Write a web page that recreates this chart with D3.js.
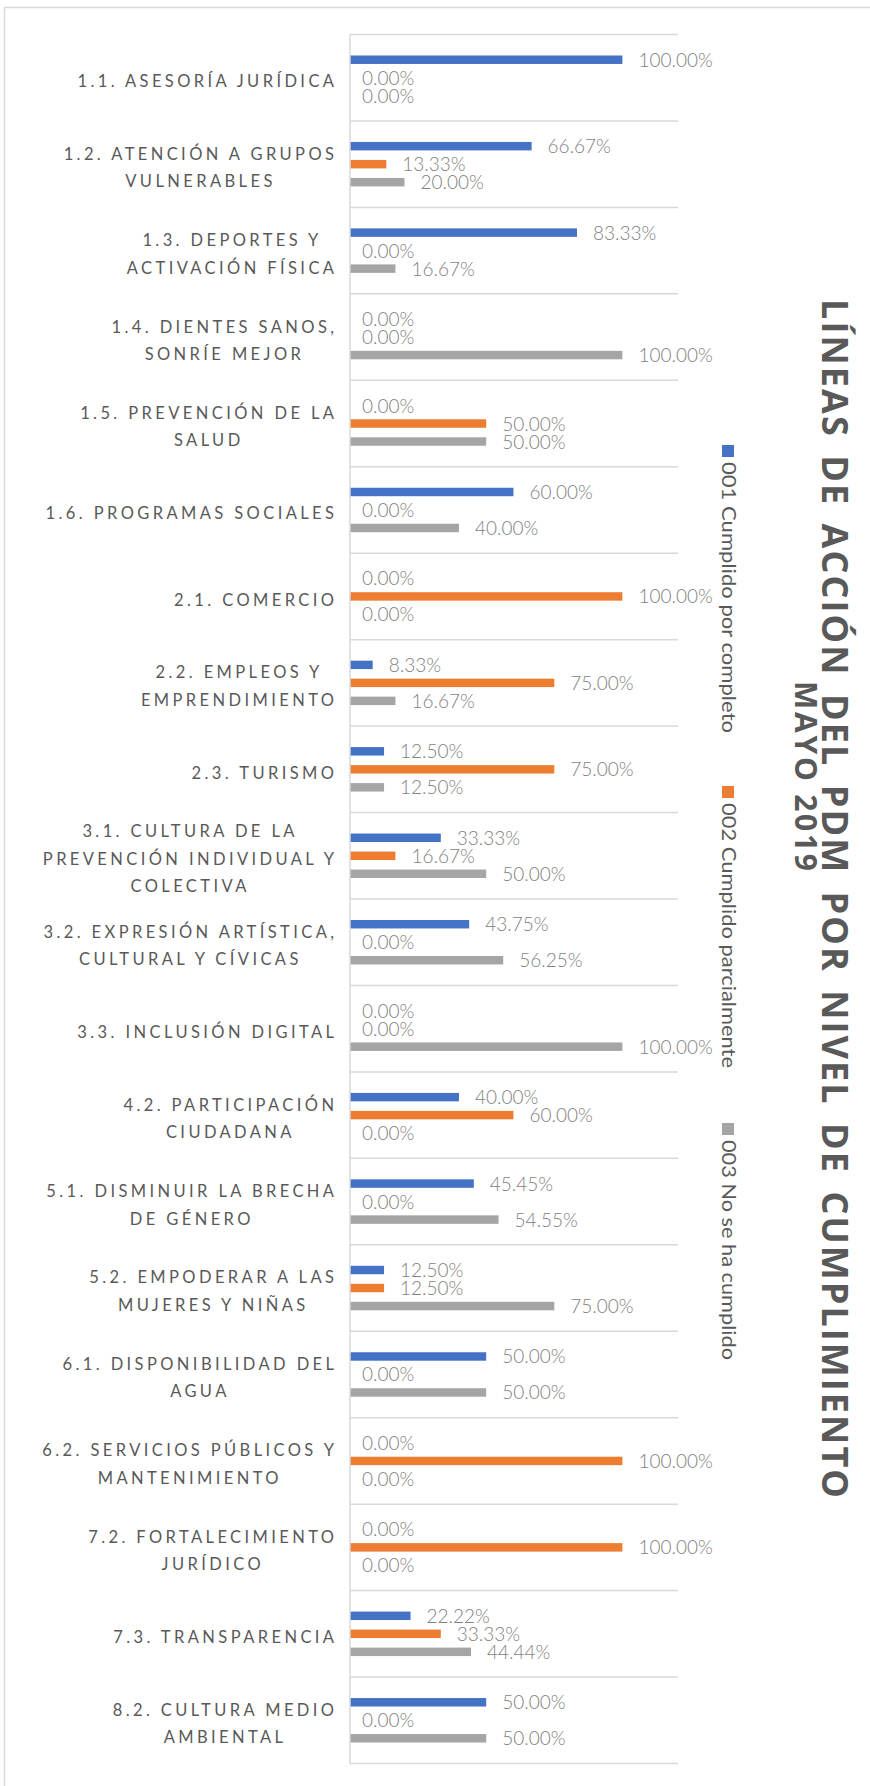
<!DOCTYPE html>
<meta charset="UTF-8">
<script src="https://d3js.org/d3.v7.min.js"></script>
<style>
  body { margin: 0; background: #fff; }
</style>
<div id="my_dataviz"></div>
<script>

  // Data
  const categories = [
    "1.1. ASESORÍA JURÍDICA",
    "1.2. ATENCIÓN A GRUPOS\nVULNERABLES",
    "1.3. DEPORTES Y\nACTIVACIÓN FÍSICA",
    "1.4. DIENTES SANOS,\nSONRÍE MEJOR",
    "1.5. PREVENCIÓN DE LA\nSALUD",
    "1.6. PROGRAMAS SOCIALES",
    "2.1. COMERCIO",
    "2.2. EMPLEOS Y\nEMPRENDIMIENTO",
    "2.3. TURISMO",
    "3.1. CULTURA DE LA\nPREVENCIÓN INDIVIDUAL Y\nCOLECTIVA",
    "3.2. EXPRESIÓN ARTÍSTICA,\nCULTURAL Y CÍVICAS",
    "3.3. INCLUSIÓN DIGITAL",
    "4.2. PARTICIPACIÓN\nCIUDADANA",
    "5.1. DISMINUIR LA BRECHA\nDE GÉNERO",
    "5.2. EMPODERAR A LAS\nMUJERES Y NIÑAS",
    "6.1. DISPONIBILIDAD DEL\nAGUA",
    "6.2. SERVICIOS PÚBLICOS Y\nMANTENIMIENTO",
    "7.2. FORTALECIMIENTO\nJURÍDICO",
    "7.3. TRANSPARENCIA",
    "8.2. CULTURA MEDIO\nAMBIENTAL"
  ];

  const series = ["001 Cumplido por completo", "002 Cumplido parcialmente", "003 No se ha cumplido"];

  const completo   = [100, 66.67, 83.33, 0, 0, 60, 0, 8.33, 12.5, 33.33, 43.75, 0, 40, 45.45, 12.5, 50, 0, 0, 22.22, 50];
  const parcial    = [0, 13.33, 0, 0, 50, 0, 100, 75, 75, 16.67, 0, 0, 60, 0, 12.5, 0, 100, 100, 33.33, 0];
  const noCumplido = [0, 20, 16.67, 100, 50, 40, 0, 16.67, 12.5, 50, 56.25, 100, 0, 54.55, 75, 50, 0, 0, 44.44, 50];

  const titleText = "LÍNEAS DE ACCIÓN DEL PDM POR NIVEL DE CUMPLIMIENTO";
  const subtitleText = "MAYO 2019";

  const colors = ["#4472C4", "#ED7D31", "#A5A5A5"];

  // Dimensions
  const width = 870, height = 1786;
  const plot = {left: 350, right: 622.4, top: 34.5, bottom: 1763.5, gridEnd: 678};

  const svg = d3.select("#my_dataviz")
    .append("svg")
    .attr("width", width)
    .attr("height", height);

  // Chart border
  svg.append("path")
    .attr("d", `M4.5,${height} V7.5 H${width}`)
    .attr("fill", "none")
    .attr("stroke", "#d9d9d9")
    .attr("stroke-width", 1.5);

  const x = d3.scaleLinear()
    .domain([0, 100])
    .range([plot.left, plot.right]);

  const y = d3.scaleBand()
    .domain(categories)
    .range([plot.top, plot.bottom]);

  const bw = y.bandwidth();
  const ySub = d3.scaleBand()
    .domain(series)
    .range([(bw - 54) / 2, (bw + 54) / 2])
    .paddingInner(0.53)
    .paddingOuter(0.265);

  // Gridlines
  const edges = categories.map(c => y(c)).concat([plot.bottom]);
  svg.append("g")
    .selectAll("line")
    .data(edges)
    .join("line")
    .attr("x1", plot.left)
    .attr("x2", plot.gridEnd)
    .attr("y1", d => d)
    .attr("y2", d => d)
    .attr("stroke", "#d9d9d9")
    .attr("stroke-width", 1.5);

  // Bars
  const rows = categories.map((c, i) => ({
    cat: c,
    vals: [completo[i], parcial[i], noCumplido[i]]
  }));

  const groups = svg.append("g")
    .selectAll("g")
    .data(rows)
    .join("g")
    .attr("transform", d => `translate(0, ${y(d.cat)})`);

  groups.selectAll("rect")
    .data(d => d.vals.map((v, k) => ({v, s: series[k], k})))
    .join("rect")
    .attr("x", x(0))
    .attr("y", d => ySub(d.s))
    .attr("width", d => x(d.v) - x(0))
    .attr("height", ySub.bandwidth())
    .attr("fill", d => colors[d.k]);

  groups.selectAll("text")
    .data(d => d.vals.map((v, k) => ({v, s: series[k], k})))
    .join("text")
    .attr("x", d => x(d.v) + (d.v > 0 ? 16 : 12))
    .attr("y", d => ySub(d.s) + ySub.bandwidth() / 2 + 7)
    .style("font-family", "Lato, sans-serif")
    .style("font-weight", "300")
    .style("font-size", "19px")
    .attr("fill", "#7f7f7f")
    .text(d => d.v.toFixed(2) + "%");

  // Y axis line
  svg.append("line")
    .attr("x1", plot.left)
    .attr("x2", plot.left)
    .attr("y1", plot.top)
    .attr("y2", plot.bottom)
    .attr("stroke", "#d9d9d9")
    .attr("stroke-width", 1.5);

  // Category labels
  const labelRight = 334, lineGap = 27.5, ls = 3.4;
  categories.forEach(c => {
    const lines = c.split("\n");
    const mid = y(c) + bw / 2;
    const t = svg.append("text")
      .attr("text-anchor", "middle")
      .style("font-family", "Lato, sans-serif")
      .style("font-size", "16.5px")
      .style("letter-spacing", ls + "px")
      .attr("fill", "#595959");
    const spans = lines.map((ln, j) => t.append("tspan")
      .attr("y", mid + 9.2 - (lines.length - 1) * lineGap / 2 + j * lineGap)
      .text(ln));
    const maxW = d3.max(spans, s => s.node().getComputedTextLength()) - ls;
    spans.forEach(s => s.attr("x", labelRight - maxW / 2 + ls / 2));
  });

  // Legend
  const legendY = [451, 792, 1129];
  const legendLen = [271, 265, 220];
  const legend = svg.append("g");
  legend.selectAll("rect")
    .data(series)
    .join("rect")
    .attr("x", 722)
    .attr("y", (d, i) => legendY[i] - 6)
    .attr("width", 12)
    .attr("height", 12)
    .attr("fill", (d, i) => colors[i]);

  legend.selectAll("text")
    .data(series)
    .join("text")
    .attr("transform", (d, i) => `translate(722, ${legendY[i] + 11}) rotate(90)`)
    .attr("textLength", (d, i) => legendLen[i])
    .attr("lengthAdjust", "spacingAndGlyphs")
    .style("font-family", "Lato, sans-serif")
    .style("font-size", "20px")
    .attr("fill", "#595959")
    .text(d => d);

  // Chart Title
  svg.append("text")
    .attr("transform", "translate(822, 898.5) rotate(90)")
    .attr("text-anchor", "middle")
    .attr("textLength", 1199)
    .attr("lengthAdjust", "spacing")
    .style("font-family", "'Open Sans', sans-serif")
    .style("font-weight", "bold")
    .style("font-size", "36px")
    .style("word-spacing", "6px")
    .attr("fill", "#595959")
    .text(titleText);

  svg.append("text")
    .attr("transform", "translate(795, 776) rotate(90)")
    .attr("text-anchor", "middle")
    .attr("textLength", 190)
    .attr("lengthAdjust", "spacing")
    .style("font-family", "'Open Sans', sans-serif")
    .style("font-weight", "bold")
    .style("font-size", "30px")
    .attr("fill", "#595959")
    .text(subtitleText);

</script>
